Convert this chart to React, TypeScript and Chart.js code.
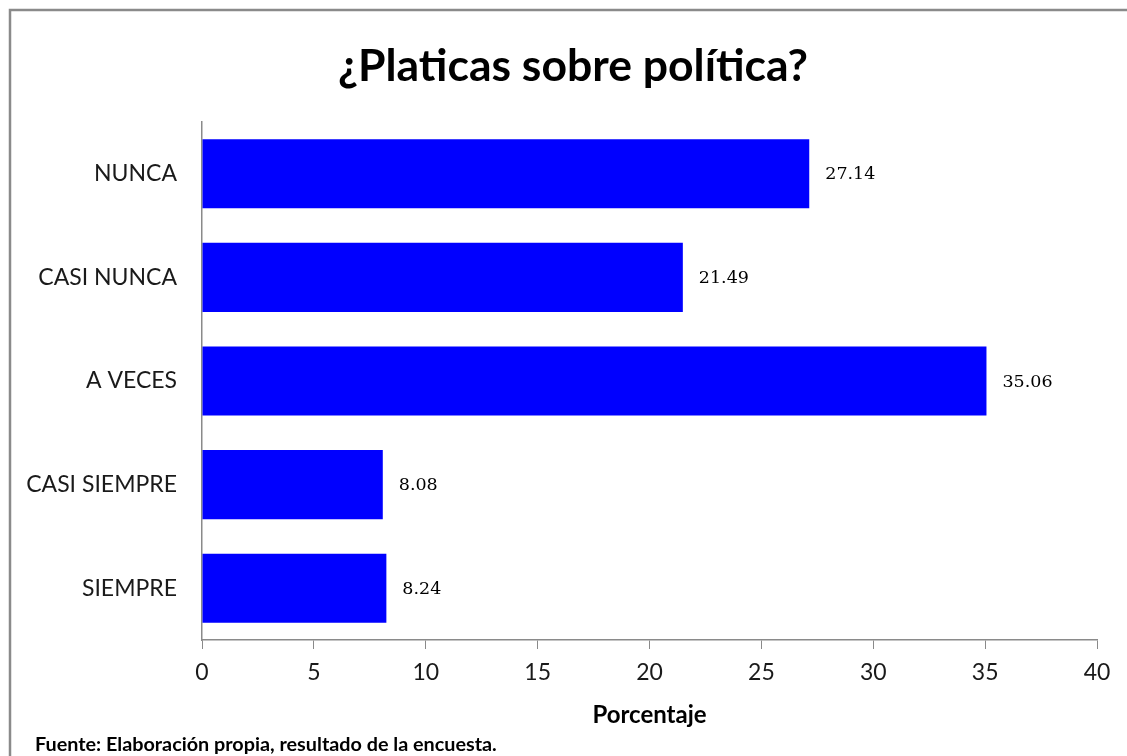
import React, { useEffect, useRef } from "react";
import { Chart, registerables } from "chart.js";

Chart.register(...registerables);

const categories = ["NUNCA", "CASI NUNCA", "A VECES", "CASI SIEMPRE", "SIEMPRE"];
const values = [27.14, 21.49, 35.06, 8.08, 8.24];
const xTicks = [0, 5, 10, 15, 20, 25, 30, 35, 40];
const titleText = "¿Platicas sobre política?";
const axisTitle = "Porcentaje";
const footnote = "Fuente: Elaboración propia, resultado de la encuesta.";

const FONT = "Lato, 'Open Sans', sans-serif";

export default function App() {
  const ref = useRef<HTMLCanvasElement | null>(null);

  useEffect(() => {
    if (!ref.current) return;
    const extras = {
      id: "extras",
      beforeDraw(chart: any) {
        const ctx = chart.ctx;
        ctx.save();
        ctx.fillStyle = "#ffffff";
        ctx.fillRect(0, 0, chart.width, chart.height);
        ctx.strokeStyle = "#8a8a8a";
        ctx.lineWidth = 2.5;
        ctx.strokeRect(10, 10, 1300, 900);
        ctx.restore();
      },
      afterDatasetsDraw(chart: any) {
        const ctx = chart.ctx;
        const meta = chart.getDatasetMeta(0);
        ctx.save();
        ctx.font = "17.5px 'DejaVu Serif', serif";
        ctx.fillStyle = "#000000";
        ctx.textAlign = "left";
        ctx.textBaseline = "middle";
        meta.data.forEach((bar: any, i: number) => {
          ctx.fillText(values[i].toFixed(2), bar.x + 16, bar.y + 1);
        });
        ctx.restore();
      },
      afterDraw(chart: any) {
        const ctx = chart.ctx;
        ctx.save();
        ctx.fillStyle = "#000000";
        ctx.textBaseline = "middle";
        ctx.textAlign = "center";
        ctx.font = "bold 44.5px " + FONT;
        ctx.fillText(titleText, 573, 67);
        ctx.textAlign = "left";
        ctx.font = "bold 19.8px " + FONT;
        ctx.fillText(footnote, 35, 745);
        ctx.restore();
      },
    };

    const chart = new Chart(ref.current, {
      type: "bar",
      data: {
        labels: categories,
        datasets: [
          {
            data: values,
            backgroundColor: "#0000ff",
            borderWidth: 0,
            categoryPercentage: 1,
            barPercentage: 0.667,
          },
        ],
      },
      options: {
        indexAxis: "y",
        responsive: false,
        animation: false,
        layout: { padding: { left: 0, right: 30, top: 122, bottom: 0 } },
        plugins: {
          legend: { display: false },
          tooltip: { enabled: false },
          title: { display: false },
        },
        scales: {
          x: {
            type: "linear",
            min: 0,
            max: 40,
            afterBuildTicks(scale: any) {
              scale.ticks = xTicks.map((v) => ({ value: v }));
            },
            afterFit(scale: any) {
              scale.height = 116;
            },
            grid: {
              drawOnChartArea: false,
              drawTicks: true,
              tickLength: 9,
              color: "#8a8a8a",
            },
            border: { display: true, color: "#8a8a8a", width: 1.5 },
            ticks: {
              color: "#1a1a1a",
              font: { family: FONT, size: 23 },
              padding: 10,
              maxRotation: 0,
            },
            title: {
              display: true,
              text: axisTitle,
              color: "#000000",
              font: { family: FONT, size: 24, weight: "bold" },
              padding: { top: 0, bottom: 26 },
            },
          },
          y: {
            afterFit(scale: any) {
              scale.width = 202;
            },
            grid: { display: false, drawTicks: false },
            border: { display: true, color: "#8a8a8a", width: 1.5 },
            ticks: {
              color: "#1a1a1a",
              font: { family: FONT, size: 23 },
              padding: 25,
            },
          },
        },
      },
      plugins: [extras],
    } as any);

    return () => chart.destroy();
  }, []);

  return (
    <div style={{ position: "fixed", left: 0, top: 0, width: 1127, height: 756 }}>
      <canvas ref={ref} width={1127} height={756} />
    </div>
  );
}
